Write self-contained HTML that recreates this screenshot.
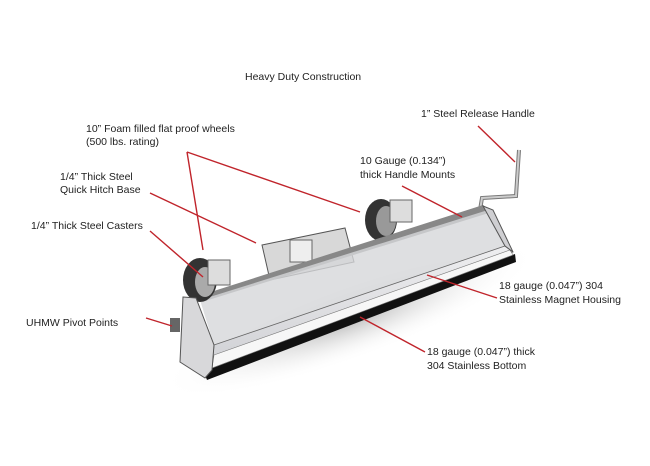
<!DOCTYPE html>
<html><head><meta charset="utf-8"><style>
html,body{margin:0;padding:0;background:#fff}
svg{display:block}
text{font-family:"Liberation Sans",sans-serif;font-size:10.5px;fill:#222}
</style></head><body>
<svg width="650" height="466" viewBox="0 0 650 466">
<defs>
<linearGradient id="g1" x1="0" y1="0" x2="0" y2="1"><stop offset="0" stop-color="#eeeef0"/><stop offset="1" stop-color="#cfd0d4"/></linearGradient>
<radialGradient id="sh" cx="0.5" cy="0.5" r="0.5"><stop offset="0" stop-color="#bbb"/><stop offset="1" stop-color="#fff" stop-opacity="0"/></radialGradient>
</defs>
<ellipse cx="350" cy="320" rx="200" ry="40" fill="url(#sh)" transform="rotate(-20 350 320)"/>
<polygon points="203,370 515,254 516,262 207,380" fill="#111"/>
<polyline points="480,210 482,198 516,196 519,150" fill="none" stroke="#777" stroke-width="4"/>
<polyline points="480,210 482,198 516,196 519,150" fill="none" stroke="#ccc" stroke-width="2"/>
<ellipse cx="381" cy="220" rx="16" ry="21" fill="#333"/>
<ellipse cx="386" cy="221" rx="10" ry="15" fill="#999"/>
<rect x="390" y="200" width="22" height="22" fill="#ddd" stroke="#666" stroke-width="1"/>
<polygon points="262,245 345,228 354,262 270,280" fill="#d8d8d8" stroke="#555" stroke-width="1"/>
<rect x="290" y="240" width="22" height="22" fill="#eee" stroke="#666"/>
<polygon points="195,297 483,205 492,212 202,302" fill="#888"/>
<polygon points="200,300 488,210 505,246 214,345" fill="#d6d7da" opacity="0.8"/>
<ellipse cx="200" cy="280" rx="17" ry="22" fill="#333"/>
<ellipse cx="205" cy="282" rx="10" ry="15" fill="#aaa"/>
<rect x="208" y="260" width="22" height="25" fill="#ddd" stroke="#666"/>
<polygon points="214,345 505,246 513,252 212,368" fill="url(#g1)" stroke="#666" stroke-width="0.8"/>
<polygon points="214,355 510,250 513,255 212,368" fill="#f7f7f7" stroke="#777" stroke-width="0.6"/>
<polygon points="183,297 196,298 214,345 212,370 205,378 180,362" fill="#d8d8da" stroke="#555" stroke-width="1"/>
<polygon points="483,206 493,210 513,252 505,246" fill="#cfcfd2" stroke="#555" stroke-width="1"/>
<rect x="170" y="318" width="10" height="14" fill="#666"/>
<g stroke="#c0242b" stroke-width="1.4" fill="none">
<line x1="187" y1="152" x2="203" y2="250"/>
<line x1="187" y1="152" x2="360" y2="212"/>
<line x1="150" y1="193" x2="256" y2="243"/>
<line x1="150" y1="231" x2="203" y2="277"/>
<line x1="146" y1="318" x2="172" y2="326"/>
<line x1="402" y1="186" x2="462" y2="217"/>
<line x1="478" y1="126" x2="515" y2="162"/>
<line x1="497" y1="298" x2="427" y2="275"/>
<line x1="425" y1="352" x2="360" y2="317"/>
</g>
<text x="245" y="80">Heavy Duty Construction</text>
<text x="421" y="117">1” Steel Release Handle</text>
<text x="86" y="132">10” Foam filled flat proof wheels</text>
<text x="86" y="145">(500 lbs. rating)</text>
<text x="360" y="164">10 Gauge (0.134”)</text>
<text x="360" y="178">thick Handle Mounts</text>
<text x="60" y="180">1/4” Thick Steel</text>
<text x="60" y="193">Quick Hitch Base</text>
<text x="31" y="229">1/4” Thick Steel Casters</text>
<text x="499" y="289">18 gauge (0.047”) 304</text>
<text x="499" y="303">Stainless Magnet Housing</text>
<text x="26" y="326">UHMW Pivot Points</text>
<text x="427" y="355">18 gauge (0.047”) thick</text>
<text x="427" y="369">304 Stainless Bottom</text>
</svg>
</body></html>
